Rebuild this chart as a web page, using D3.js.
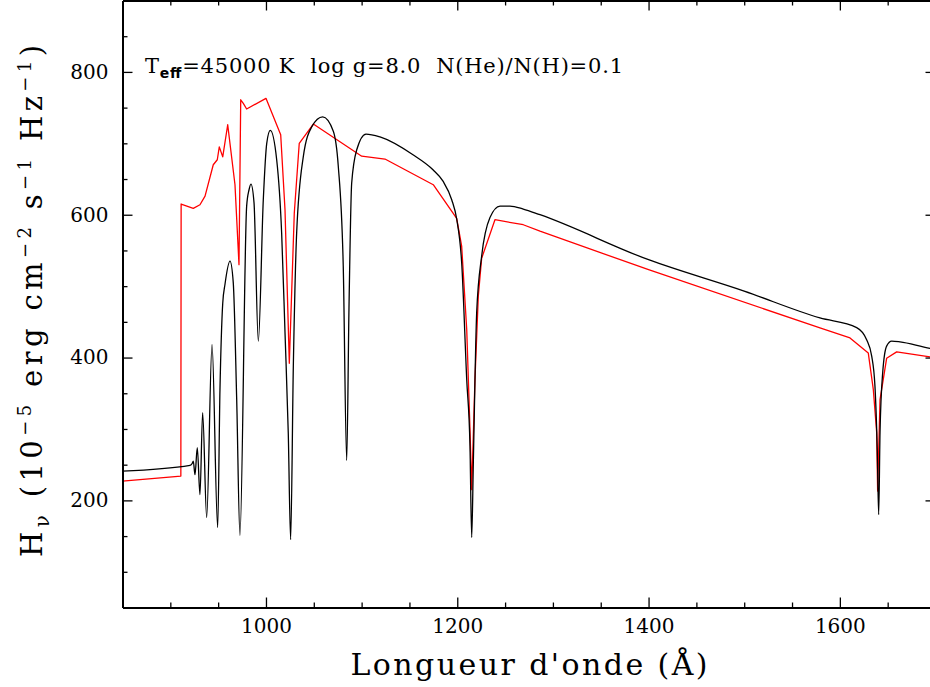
<!DOCTYPE html>
<html><head><meta charset="utf-8">
<script src="https://cdn.jsdelivr.net/npm/d3@7"></script>
<style>
body{margin:0;background:#fff;}
svg{display:block;}
text{font-family:"DejaVu Serif",serif;fill:#000;}
</style>
</head><body>
<svg id="c" width="930" height="687"></svg>
<script>
// ---- data ----
const blackWave=[850,920.6,923.0,924.0,925.8,928.2,931.0,933.8,938.0,943.6,949.5,951.9,954.8,957.2,962.4,965.8,969.4,972.8,979.8,982.3,984.3,987.5,992.0,997.2,1000.8,1004.5,1011.2,1016.4,1019.9,1023.3,1025.8,1028.6,1032.1,1039.0,1047.8,1059.3,1070.4,1075.6,1080.8,1084.4,1086.8,1089.6,1094.9,1104.6,1119.2,1153.7,1174.6,1185.1,1194.2,1199.4,1204.6,1209.9,1213.3,1215.1,1216.8,1220.3,1225.5,1234.2,1244.7,1255.1,1269.0,1286.5,1400,1500,1579.2,1617.6,1628.0,1633.3,1636.7,1639.1,1640.6,1642.0,1644.8,1648.9,1654.2,1662.9,1694.2,1700];
const blackFlux=[241,249,252,255,236,274,208,323,176,418,162,355,476,503,535,505,341,151,612,635,643,617,423,621,700,718,677,574,435,295,145,388,575,681,723,737,717,668,528,256,470,644,691,713,709,684,663,647,621,594,533,369,276,148,253,463,542,596,612,612,608,600,537,493,455.5,442,425,402,360,271,180,295,379,416,423,422,413,412];
const redWave=[850,911.0,911.3,924.0,931.0,936.3,944.9,949.1,951.2,954.8,960.0,967.6,971.8,973.6,976.3,979.8,1000.0,1015.4,1019.9,1024.4,1029.6,1034.8,1049.5,1100.1,1124.4,1174.9,1199.4,1204.6,1209.9,1213.3,1215.1,1218.5,1222.0,1225.5,1239.4,1269.0,1286.5,1400,1579.2,1610.6,1629.7,1635.0,1638.5,1639.5,1642.0,1648.9,1659.4,1694.2,1700];
const redFlux=[227,234,615,609,614,626,670,677,695,681,726,642,530,761,756,748,763,712,607,392,602,700,727,682,678,642,595,556,439,299,215,369,486,539,593,586,577,523,441.5,427.5,406.5,355,295,213,341,399,408,401,400];
const xMajorTicks=[1000,1200,1400,1600];
const xMinorTicks=[900,950,1050,1100,1150,1250,1300,1350,1450,1500,1550,1650];
const yMajorTicks=[200,400,600,800];
const yMinorTicks=[100,150,250,300,350,450,500,550,650,700,750,850];
const xDomain=[850,1700];
const yDomain=[50,900];

// ---- layout ----
const L=122.5, R=935.5, T=0.5, B=607.5;
const svg=d3.select("#c");
const x=d3.scaleLinear().domain(xDomain).range([L,R]);
const y=d3.scaleLinear().domain(yDomain).range([B,T]);

svg.append("defs").append("clipPath").attr("id","clip")
  .append("rect").attr("x",L).attr("y",T).attr("width",R-L).attr("height",B-T);

const blackData=blackWave.map((w,i)=>[w,blackFlux[i]]);
const redData=redWave.map((w,i)=>[w,redFlux[i]]);

const plot=svg.append("g").attr("clip-path","url(#clip)");
plot.append("path").datum(redData)
  .attr("d",d3.line().x(d=>x(d[0])).y(d=>y(d[1])).curve(d3.curveLinear))
  .attr("fill","none").attr("stroke","#ff0000").attr("stroke-width",1.3).attr("stroke-linejoin","round");
plot.append("path").datum(blackData)
  .attr("d",d3.line().x(d=>x(d[0])).y(d=>y(d[1])).curve(d3.curveMonotoneX))
  .attr("fill","none").attr("stroke","#000").attr("stroke-width",1.3).attr("stroke-linejoin","round");

function styleAxis(g,showDomain){
  g.selectAll(".tick line").attr("stroke","#000").attr("stroke-width",1.3);
  if(showDomain) g.select(".domain").attr("stroke","#000").attr("stroke-width",2);
  else g.select(".domain").remove();
  g.selectAll("text").attr("font-family","DejaVu Serif").attr("font-size",20).attr("fill","#000");
}
// bottom
let g=svg.append("g").attr("transform",`translate(0,${B})`)
  .call(d3.axisBottom(x).tickValues(xMajorTicks).tickSizeInner(-10).tickSizeOuter(0).tickPadding(11).tickFormat(d3.format("d")));
styleAxis(g,true);
g=svg.append("g").attr("transform",`translate(0,${B})`)
  .call(d3.axisBottom(x).tickValues(xMinorTicks).tickSize(-5).tickFormat(""));
styleAxis(g,false);
// top
g=svg.append("g").attr("transform",`translate(0,${T})`)
  .call(d3.axisTop(x).tickValues(xMajorTicks).tickSizeInner(-10).tickSizeOuter(0).tickFormat(""));
styleAxis(g,true);
g=svg.append("g").attr("transform",`translate(0,${T})`)
  .call(d3.axisTop(x).tickValues(xMinorTicks).tickSize(-5).tickFormat(""));
styleAxis(g,false);
// left
g=svg.append("g").attr("transform",`translate(${L},0)`)
  .call(d3.axisLeft(y).tickValues(yMajorTicks).tickSizeInner(-10).tickSizeOuter(0).tickPadding(14).tickFormat(d3.format("d")));
styleAxis(g,true);
g=svg.append("g").attr("transform",`translate(${L},0)`)
  .call(d3.axisLeft(y).tickValues(yMinorTicks).tickSize(-5).tickFormat(""));
styleAxis(g,false);
// right
g=svg.append("g").attr("transform",`translate(${R},0)`)
  .call(d3.axisRight(y).tickValues(yMajorTicks).tickSizeInner(-10).tickSizeOuter(0).tickFormat(""));
styleAxis(g,true);
g=svg.append("g").attr("transform",`translate(${R},0)`)
  .call(d3.axisRight(y).tickValues(yMinorTicks).tickSize(-5).tickFormat(""));
styleAxis(g,false);

// x title
svg.append("text").attr("x",(L+R)/2).attr("y",675).attr("text-anchor","middle")
  .attr("font-size",30).attr("textLength",357).attr("lengthAdjust","spacing")
  .text("Longueur d'onde (Å)");

// y title
const yt=svg.append("text").attr("transform","translate(42,301) rotate(-90)")
  .attr("text-anchor","middle").attr("font-size",29)
  .attr("textLength",512).attr("lengthAdjust","spacing");
const parts=[["H",0,29],["ν",7,20],[" (10",-7,29],["−5",-11,18],[" erg cm",11,29],["−2",-11,18],[" s",11,29],["−1",-11,18],[" Hz",11,29],["−1",-11,18],[")",11,29]];
parts.forEach(p=>yt.append("tspan").attr("dy",p[1]).attr("font-size",p[2]).text(p[0]));

// annotation
const an=svg.append("text").attr("x",145).attr("y",73).attr("font-size",21)
  .attr("textLength",478).attr("lengthAdjust","spacing");
an.append("tspan").text("T");
an.append("tspan").attr("dy",5).attr("font-size",14).attr("font-weight","bold").attr("font-family","DejaVu Sans").text("eff");
an.append("tspan").attr("dy",-5).attr("xml:space","preserve").text("=45000 K  log g=8.0  N(He)/N(H)=0.1");
</script>
</body></html>
